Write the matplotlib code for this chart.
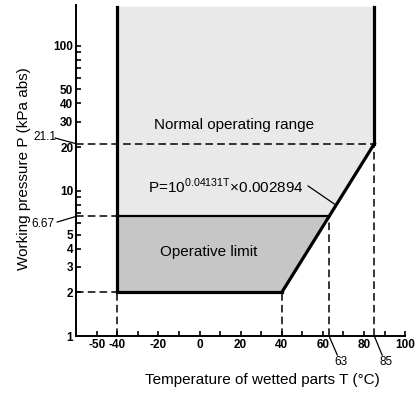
import numpy as np
import matplotlib
matplotlib.use("Agg")
from matplotlib import pyplot as plt
from matplotlib.ticker import FixedLocator, NullFormatter

plt.rcParams["font.family"] = ["Liberation Sans", "DejaVu Sans"]

# boundary points of the operating envelope (T in degC, P in kPa abs)
t_low = -40
t_knee = 40
t_mid = 63
t_high = 85
p_min = 2
p_mid = 6.67
p_high = 21.1
p_top = 185

curve_t = [t_knee, t_mid, t_high]
curve_p = [p_min, p_mid, p_high]

xticks_major = [-50, -40, -20, 0, 20, 40, 60, 80, 100]
xticks_minor = [-30, -10, 10, 30, 50, 70, 90]
yticks_major = [1, 2, 3, 4, 5, 10, 20, 30, 40, 50, 100]
yticks_minor = [6, 7, 8, 9, 60, 70, 80, 90]

light = "#e9e9e9"
dark = "#c6c6c6"
thick = 2.3
dash_kw = dict(color="black", lw=1.1, ls=(0, (5, 2.7)), zorder=3)
lead_kw = dict(color="black", lw=0.9, clip_on=False, zorder=4)
num_kw = dict(ha="center", va="center", fontsize=8.5)

fig = plt.figure(figsize=(4.16, 3.94), dpi=100)
ax = fig.add_axes([0.183, 0.147, 0.791, 0.84])
ax.set_yscale("log")
ax.set_xlim(-60, 100)
ax.set_ylim(1, 190)

# filled regions
ax.fill([t_low, t_mid, t_high, t_high, t_low],
        [p_mid, p_mid, p_high, p_top, p_top], color=light, lw=0, zorder=1)
ax.fill([t_low, t_knee, t_mid, t_low],
        [p_min, p_min, p_mid, p_mid], color=dark, lw=0, zorder=1)

# dashed guide lines
ax.plot([-60, t_high], [p_high, p_high], **dash_kw)
ax.plot([-60, t_low], [p_mid, p_mid], **dash_kw)
ax.plot([-60, t_low], [p_min, p_min], **dash_kw)
ax.plot([t_low, t_low], [1, p_min], **dash_kw)
ax.plot([t_knee, t_knee], [1, p_min], **dash_kw)
ax.plot([t_mid, t_mid], [1, p_mid], **dash_kw)
ax.plot([t_high, t_high], [1, p_high], **dash_kw)

# envelope outline
ax.plot([t_low, t_low, t_knee], [p_top, p_min, p_min], color="black", lw=thick,
        solid_joinstyle="miter", zorder=4)
ax.plot(curve_t, curve_p, color="black", lw=thick, zorder=4)
ax.plot([t_high, t_high], [p_high, p_top], color="black", lw=thick, zorder=4)
ax.plot([t_low, t_mid], [p_mid, p_mid], color="black", lw=1.6, zorder=4)

# texts
ax.text(16.8, 28.5, "Normal operating range", ha="center", va="center", fontsize=11)
ax.text(4.4, 3.8, "Operative limit", ha="center", va="center", fontsize=11)
ax.text(-25, 10.8, r"P=10$^{\mathregular{0.04131T}}$×0.002894", ha="left", va="center",
        fontsize=11)
ax.plot([52.8, 66.5], [10.8, 7.95], **lead_kw)

# leader labels outside the axes
ax.text(-75.3, 23.6, "21.1", **num_kw)
ax.plot([-70.2, -60], [23.1, p_high], **lead_kw)
ax.text(-76, 5.95, "6.67", **num_kw)
ax.plot([-69.2, -60], [6.1, p_mid], **lead_kw)
ax.text(68.9, 0.66, "63", **num_kw)
ax.plot([t_mid, 67], [1, 0.74], **lead_kw)
ax.text(90.5, 0.66, "85", **num_kw)
ax.plot([t_high, 88.8], [1, 0.74], **lead_kw)

# axes styling
for s in ["top", "right"]:
    ax.spines[s].set_visible(False)
for s in ["left", "bottom"]:
    ax.spines[s].set_linewidth(1.4)
ax.xaxis.set_major_locator(FixedLocator(xticks_major))
ax.xaxis.set_minor_locator(FixedLocator(xticks_minor))
ax.yaxis.set_major_locator(FixedLocator(yticks_major))
ax.yaxis.set_minor_locator(FixedLocator(yticks_minor))
ax.set_yticklabels([str(v) for v in yticks_major])
ax.set_xticklabels([str(v) for v in xticks_major])
ax.yaxis.set_minor_formatter(NullFormatter())
ax.tick_params(which="both", direction="in", length=3.5, width=1.2, labelsize=8.5, pad=2)
for lab in ax.get_xticklabels() + ax.get_yticklabels():
    lab.set_fontweight("bold")

fig.text(0.63, 0.0355, "Temperature of wetted parts T (°C)", ha="center", va="center",
         fontsize=11)
fig.text(0.058, 0.571, "Working pressure P (kPa abs)", ha="center", va="center",
         rotation=90, fontsize=11)

fig.savefig("out.png", dpi=100)
